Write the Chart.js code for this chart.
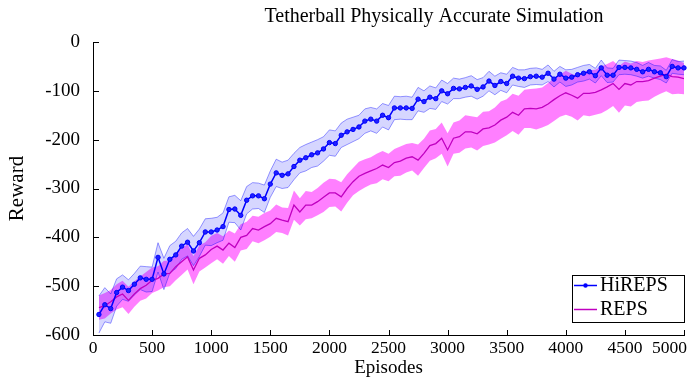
<!DOCTYPE html>
<html>
<head>
<meta charset="utf-8">
<title>Tetherball Physically Accurate Simulation</title>
<script src="https://cdn.jsdelivr.net/npm/chart.js@4.4.1/dist/chart.umd.min.js"></script>
<style>
  html, body { margin: 0; padding: 0; background: #fff; }
  canvas { display: block; }
</style>
</head>
<body>
<canvas id="myChart" width="689" height="379"></canvas>
<script>
// mean reward every 50 episodes (50 ... 5000)
const hiReward = [
  -558, -538, -546, -513, -502, -509, -496, -483, -486, -486,
  -441, -475, -445, -436, -418, -410, -428, -411, -389, -389,
  -385, -378, -343, -342, -355, -324, -315, -315, -321, -291,
  -268, -273, -270, -255, -242, -237, -231, -227, -219, -206,
  -208, -191, -184, -179, -174, -162, -158, -162, -150, -155,
  -135, -135, -135, -136, -117, -122, -113, -116, -100, -106,
  -95, -96, -93, -90, -97, -92, -80, -89, -81, -85,
  -70, -74, -75, -71, -70, -72, -64, -76, -66, -74,
  -72, -67, -64, -61, -69, -53, -68, -68, -52, -52,
  -53, -56, -61, -56, -61, -63, -71, -50, -53, -53
]
const hiStd = [
  38, 35, 30, 28, 25, 22, 22, 24, 26, 25,
  30, 32, 28, 28, 27, 28, 30, 28, 27, 28,
  26, 28, 26, 28, 30, 28, 27, 26, 28, 27,
  28, 27, 28, 27, 26, 27, 26, 27, 25, 26,
  26, 25, 26, 25, 24, 25, 24, 25, 24, 25,
  24, 23, 24, 23, 24, 22, 23, 22, 22, 21,
  21, 20, 20, 21, 20, 19, 20, 19, 18, 19,
  18, 17, 18, 17, 17, 16, 17, 16, 16, 17,
  16, 15, 16, 15, 15, 16, 15, 14, 15, 14,
  14, 14, 13, 14, 13, 14, 13, 14, 13, 14
]
const repsReward = [
  -544, -540, -532, -522, -516, -529, -516, -505, -498, -488,
  -484, -475, -474, -460, -450, -440, -467, -443, -436, -425,
  -418, -426, -412, -421, -400, -396, -382, -385, -378, -372,
  -361, -365, -368, -334, -348, -334, -334, -327, -318, -309,
  -309, -317, -300, -286, -275, -269, -264, -259, -252, -257,
  -247, -244, -238, -235, -242, -228, -212, -208, -197, -221,
  -197, -194, -184, -184, -188, -178, -176, -170, -160, -154,
  -144, -150, -137, -136, -137, -134, -127, -118, -110, -104,
  -109, -115, -105, -105, -103, -98, -92, -85, -97, -85,
  -88, -81, -81, -79, -74, -70, -66, -71, -72, -75
]
const repsStd = [
  25, 26, 24, 26, 27, 28, 26, 25, 27, 26,
  25, 27, 26, 28, 27, 26, 29, 27, 26, 28,
  27, 28, 26, 29, 27, 28, 26, 27, 28, 27,
  28, 26, 28, 30, 28, 29, 27, 28, 30, 29,
  28, 30, 29, 28, 30, 29, 28, 30, 29, 28,
  28, 30, 29, 28, 32, 30, 31, 30, 32, 34,
  32, 33, 34, 32, 34, 35, 34, 36, 38, 37,
  38, 40, 39, 40, 42, 41, 43, 44, 43, 45,
  44, 46, 45, 47, 46, 48, 47, 46, 48, 45,
  44, 42, 40, 41, 38, 36, 35, 36, 34, 32
]
const episodes = hiReward.map((_, i) => (i + 1) * 50)
const xTicks = [0, 500, 1000, 1500, 2000, 2500, 3000, 3500, 4000, 4500, 5000]
const yTicks = [0, -100, -200, -300, -400, -500, -600]

const serif = '"Liberation Serif", "Times New Roman", serif'
const blue = '#0000ff'
const magenta = '#c000c0'

function pts(values, offs, sign) {
  return episodes.map((ep, i) => ({ x: ep, y: values[i] + sign * (offs ? offs[i] : 0) }))
}

// title, inward tick marks, x labels and the boxed legend
const decorations = {
  id: 'decorations',
  afterDraw(chart) {
    const { ctx, chartArea: a, scales: { x, y } } = chart
    ctx.save()
    ctx.strokeStyle = '#000'
    ctx.lineWidth = 1
    ctx.beginPath()
    xTicks.forEach(v => {
      const px = Math.round(x.getPixelForValue(v)) + 0.5
      ctx.moveTo(px, a.bottom)
      ctx.lineTo(px, a.bottom - 5)
    })
    yTicks.forEach(v => {
      const py = Math.round(y.getPixelForValue(v)) + 0.5
      ctx.moveTo(a.left, py)
      ctx.lineTo(a.left + 6, py)
    })
    ctx.stroke()

    ctx.fillStyle = '#000'
    ctx.textBaseline = 'middle'
    ctx.font = '17.5px ' + serif
    xTicks.forEach((v, i) => {
      const last = i === xTicks.length - 1
      ctx.textAlign = last ? 'right' : 'center'
      ctx.fillText(String(v), last ? chart.width - 2 : x.getPixelForValue(v), 348)
    })

    ctx.font = '20px ' + serif
    ctx.textAlign = 'center'
    ctx.fillText('Tetherball Physically Accurate Simulation', 434, 17)

    // legend
    const lx = 572, ly = 275, lw = 112, lh = 47
    ctx.fillStyle = '#fff'
    ctx.fillRect(lx, ly, lw, lh)
    ctx.strokeStyle = '#000'
    ctx.strokeRect(lx + 0.5, ly + 0.5, lw, lh)
    ctx.lineWidth = 1.5
    ctx.strokeStyle = blue
    ctx.beginPath(); ctx.moveTo(574, 285.5); ctx.lineTo(597, 285.5); ctx.stroke()
    ctx.fillStyle = blue
    ctx.beginPath(); ctx.arc(585.5, 285.5, 2.2, 0, Math.PI * 2); ctx.fill()
    ctx.strokeStyle = magenta
    ctx.beginPath(); ctx.moveTo(574, 309.5); ctx.lineTo(597, 309.5); ctx.stroke()
    ctx.fillStyle = '#000'
    ctx.textAlign = 'left'
    ctx.fillText('HiREPS', 600, 286)
    ctx.fillText('REPS', 600, 310)
    ctx.restore()
  }
}

const ctx = document.getElementById('myChart')

new Chart(ctx, {
  type: 'line',
  data: {
    datasets: [
      {
        label: 'HiREPS',
        data: pts(hiReward, null, 0),
        borderColor: blue,
        borderWidth: 1.5,
        pointRadius: 2.2,
        pointBackgroundColor: '#2020ff',
        pointBorderColor: blue,
        pointBorderWidth: 1,
        fill: false,
        clip: 5,
        order: 0
      },
      {
        label: 'REPS',
        data: pts(repsReward, null, 0),
        borderColor: magenta,
        borderWidth: 1.3,
        pointRadius: 0,
        fill: false,
        order: 1
      },
      {
        label: 'HiREPS upper',
        data: pts(hiReward, hiStd, 1),
        borderColor: 'rgba(0,0,255,0.4)',
        borderWidth: 1,
        pointRadius: 0,
        backgroundColor: 'rgba(0,0,255,0.16)',
        fill: '+1',
        order: 2
      },
      {
        label: 'HiREPS lower',
        data: pts(hiReward, hiStd, -1),
        borderColor: 'rgba(0,0,255,0.4)',
        borderWidth: 1,
        pointRadius: 0,
        fill: false,
        order: 2
      },
      {
        label: 'REPS upper',
        data: pts(repsReward, repsStd, 1),
        borderWidth: 0,
        borderColor: 'rgba(255,0,255,0)',
        pointRadius: 0,
        backgroundColor: 'rgba(255,0,255,0.5)',
        fill: '+1',
        order: 3
      },
      {
        label: 'REPS lower',
        data: pts(repsReward, repsStd, -1),
        borderWidth: 0,
        borderColor: 'rgba(255,0,255,0)',
        pointRadius: 0,
        fill: false,
        order: 3
      }
    ]
  },
  options: {
    responsive: false,
    devicePixelRatio: 1,
    animation: false,
    layout: { padding: { top: 42, right: 5, left: 0, bottom: 0 } },
    plugins: {
      legend: { display: false },
      title: { display: false },
      tooltip: { enabled: false }
    },
    scales: {
      x: {
        type: 'linear',
        min: 0,
        max: 5000,
        grid: { display: false, drawTicks: false },
        border: { display: true, color: '#000', width: 1 },
        ticks: { display: false, stepSize: 500 },
        title: {
          display: true,
          text: 'Episodes',
          color: '#000',
          font: { family: serif, size: 19 },
          padding: { top: 0, bottom: 0 }
        },
        afterFit: s => { s.height = 44 }
      },
      y: {
        min: -600,
        max: 0,
        grid: { display: false, drawTicks: false },
        border: { display: true, color: '#000', width: 1 },
        ticks: {
          stepSize: 100,
          padding: 13,
          color: '#000',
          font: { family: serif, size: 19 },
          callback: v => String(v)
        },
        title: {
          display: true,
          text: 'Reward',
          color: '#000',
          font: { family: serif, size: 21 },
          padding: { top: 5, bottom: 0 }
        },
        afterFit: s => { s.width = 93 }
      }
    }
  },
  plugins: [decorations]
})
</script>
</body>
</html>
